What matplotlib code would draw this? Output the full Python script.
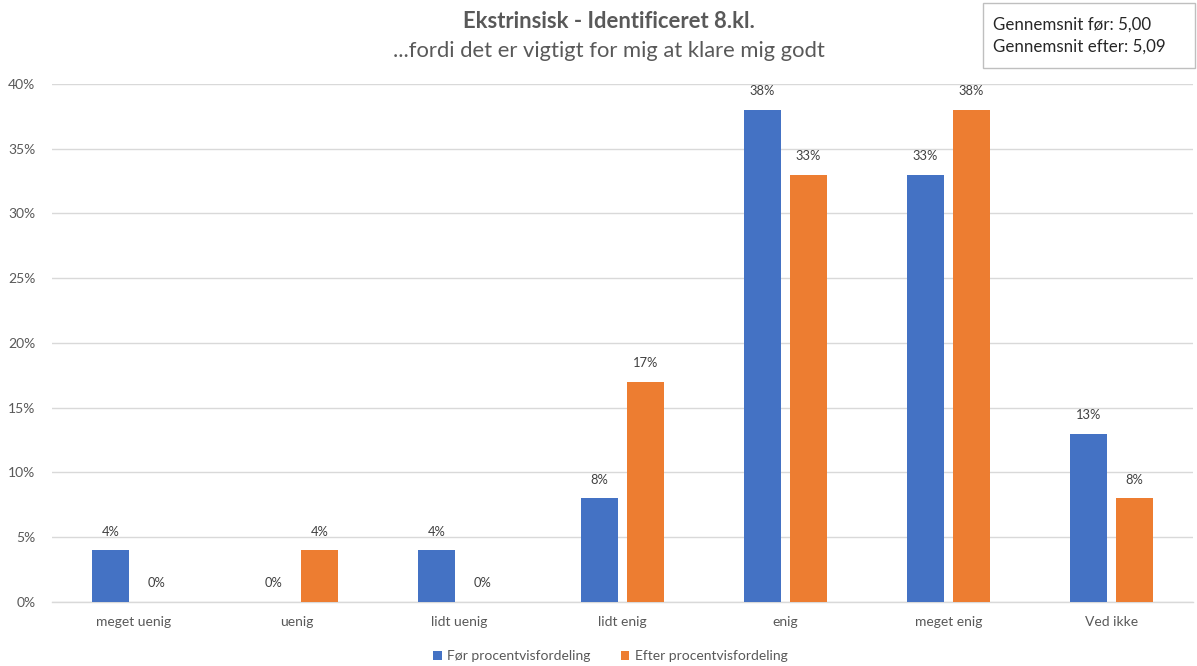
import matplotlib.pyplot as plt
import numpy as np
from matplotlib.patches import Rectangle
from matplotlib.ticker import FuncFormatter

# Survey answers, share of pupils per category
categories = ["meget uenig", "uenig", "lidt uenig", "lidt enig", "enig", "meget enig", "Ved ikke"]
foer = [4, 0, 4, 8, 38, 33, 13]
efter = [0, 4, 0, 17, 33, 38, 8]
series_names = ["Før procentvisfordeling", "Efter procentvisfordeling"]
yticks = [0, 5, 10, 15, 20, 25, 30, 35, 40]

BLUE = "#4472C4"
ORANGE = "#ED7D31"
GRAY = "#595959"

plt.rcParams['font.family'] = ['Lato', 'DejaVu Sans']

fig = plt.figure(figsize=(11.97, 6.66), dpi=100)
ax = fig.add_axes([0.0434, 0.0961, 0.9533, 0.7778])

x = np.arange(len(categories))
w = 0.227
off = 0.141
b1 = ax.bar(x - off, foer, w, color=BLUE, label=series_names[0], zorder=3)
b2 = ax.bar(x + off, efter, w, color=ORANGE, label=series_names[1], zorder=3)

for bars, vals in ((b1, foer), (b2, efter)):
    for rect, v in zip(bars, vals):
        ax.annotate(f"{v}%", (rect.get_x() + rect.get_width() / 2, v),
                    xytext=(0, 9), textcoords="offset points",
                    ha="center", va="bottom", fontsize=9.3, color="#404040")

ax.set_xlim(-0.5, len(categories) - 0.5)
ax.set_ylim(0, 40)
ax.set_yticks(yticks)
ax.yaxis.set_major_formatter(FuncFormatter(lambda v, p: f"{v:.0f}%"))
ax.set_xticks(x)
ax.set_xticklabels(categories)
ax.tick_params(axis='both', length=0, labelsize=10, colors=GRAY)
ax.tick_params(axis='x', pad=10)
ax.tick_params(axis='y', pad=12)
ax.grid(axis='y', color="#d9d9d9", linewidth=1, zorder=0)
for s in ("top", "right", "left"):
    ax.spines[s].set_visible(False)
ax.spines["bottom"].set_color("#d9d9d9")
ax.spines["bottom"].set_linewidth(1)

# Titles
fig.text(0.5085, 0.968, "Ekstrinsisk - Identificeret 8.kl.", ha="center", va="center",
         fontsize=15.8, fontweight="bold", color=GRAY)
fig.text(0.5085, 0.924, "...fordi det er vigtigt for mig at klare mig godt", ha="center",
         va="center", fontsize=15.8, color=GRAY)

# Averages box
fig.patches.append(Rectangle((983 / 1197, 1 - 68 / 666), 212 / 1197, 65 / 666,
                             transform=fig.transFigure, facecolor="white",
                             edgecolor="#bfbfbf", linewidth=1))
fig.text(993 / 1197, 1 - 25 / 666, "Gennemsnit før: 5,00", ha="left", va="center",
         fontsize=12.2, color="#262626")
fig.text(993 / 1197, 1 - 47 / 666, "Gennemsnit efter: 5,09", ha="left", va="center",
         fontsize=12.2, color="#262626")

leg = fig.legend(handles=[b1, b2], loc="center", bbox_to_anchor=(0.51, 1 - 656 / 666),
                 ncol=2, frameon=False, fontsize=10, handlelength=0.6, handleheight=0.6,
                 handletextpad=0.4, columnspacing=2.2)
for t in leg.get_texts():
    t.set_color(GRAY)

fig.savefig("out.png", dpi=100)
